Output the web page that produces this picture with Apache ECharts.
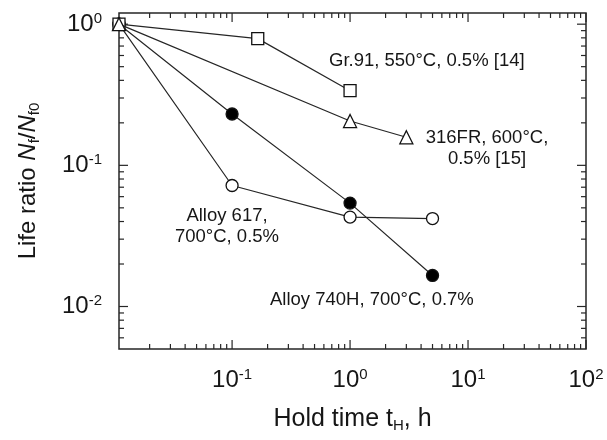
<!DOCTYPE html>
<html>
<head>
<meta charset="utf-8">
<script src="https://cdn.jsdelivr.net/npm/echarts@6/dist/echarts.min.js"></script>
<style>
  html, body { margin: 0; padding: 0; background: #fff; }
  #chart { width: 607px; height: 440px; }
</style>
</head>
<body>
<div id="chart"></div>
<script>
// hold time t_H (h) and life ratio Nf/Nf0; the t_H = 0 reference point sits on the left edge
const gr91Time = [0.011, 0.165, 1.0];
const gr91Ratio = [1.0, 0.79, 0.338];
const fr316Time = [0.011, 1.0, 3.0];
const fr316Ratio = [1.0, 0.206, 0.158];
const alloy740Time = [0.011, 0.1, 1.0, 5.0];
const alloy740Ratio = [1.0, 0.231, 0.054, 0.0166];
const alloy617Time = [0.011, 0.1, 1.0, 5.0];
const alloy617Ratio = [1.0, 0.072, 0.043, 0.042];

// tick marks (drawn inside the frame on all four sides)
const xMajorTicks = [0.1, 1, 10, 100];
const xMinorTicks = [0.02, 0.03, 0.04, 0.05, 0.06, 0.07, 0.08, 0.09,
  0.2, 0.3, 0.4, 0.5, 0.6, 0.7, 0.8, 0.9,
  2, 3, 4, 5, 6, 7, 8, 9,
  20, 30, 40, 50, 60, 70, 80, 90];
const yMajorTicks = [0.01, 0.1, 1];
const yMinorTicks = [0.006, 0.007, 0.008, 0.009,
  0.02, 0.03, 0.04, 0.05, 0.06, 0.07, 0.08, 0.09,
  0.2, 0.3, 0.4, 0.5, 0.6, 0.7, 0.8, 0.9];

const FONT = 'Liberation Sans, Arial, sans-serif';
const INK = '#161616';
const LINE = '#262626';

const chart = echarts.init(document.getElementById('chart'), null, { renderer: 'canvas' });

function pairs(xs, ys) {
  return xs.map((x, i) => [x, ys[i]]);
}

// superscript tick label: 10^n
function powerLabel(value) {
  const e = Math.log10(value);
  if (Math.abs(e - Math.round(e)) > 1e-6) return '';
  return '{b|10}{s|' + Math.round(e) + '}';
}

const tickRich = {
  b: { fontSize: 24, fontFamily: FONT, color: INK, lineHeight: 26 },
  s: { fontSize: 15, fontFamily: FONT, color: INK, verticalAlign: 'top', lineHeight: 15, padding: [0, 0, 8, 0] }
};

function renderTick(isX) {
  return function (params, api) {
    const cs = params.coordSys;
    const len = api.value(2) === 1 ? 9 : 5;
    const style = { stroke: LINE, lineWidth: 1.2 };
    if (isX) {
      const px = api.coord([api.value(0), 1])[0];
      return {
        type: 'group',
        children: [
          { type: 'line', shape: { x1: px, y1: cs.y + cs.height, x2: px, y2: cs.y + cs.height - len }, style: style },
          { type: 'line', shape: { x1: px, y1: cs.y, x2: px, y2: cs.y + len }, style: style }
        ]
      };
    }
    const py = api.coord([1, api.value(1)])[1];
    return {
      type: 'group',
      children: [
        { type: 'line', shape: { x1: cs.x, y1: py, x2: cs.x + len, y2: py }, style: style },
        { type: 'line', shape: { x1: cs.x + cs.width, y1: py, x2: cs.x + cs.width - len, y2: py }, style: style }
      ]
    };
  };
}

function dataSeries(name, xs, ys, symbol, fill, z) {
  return {
    name: name,
    type: 'line',
    data: pairs(xs, ys),
    symbol: symbol,
    symbolSize: symbol === 'triangle' ? 13 : 12,
    showAllSymbol: true,
    lineStyle: { color: LINE, width: 1.2 },
    itemStyle: { color: fill, borderColor: '#111', borderWidth: 1.3 },
    z: z
  };
}

const xTickData = xMajorTicks.map(v => [v, 1, 1]).concat(xMinorTicks.map(v => [v, 1, 0]));
const yTickData = yMajorTicks.map(v => [1, v, 1]).concat(yMinorTicks.map(v => [1, v, 0]));

const option = {
  animation: false,
  backgroundColor: '#fff',
  grid: {
    left: 119,
    right: 21,
    top: 13,
    bottom: 91,
    show: true,
    borderColor: LINE,
    borderWidth: 1.5,
    containLabel: false
  },
  xAxis: {
    type: 'log',
    logBase: 10,
    min: 0.011,
    max: 100,
    name: '{t|Hold time t}{sub|H}{t|, h}',
    nameLocation: 'middle',
    nameGap: 56,
    nameTextStyle: {
      rich: {
        t: { fontSize: 25, fontFamily: FONT, color: INK, lineHeight: 28 },
        sub: { fontSize: 15, fontFamily: FONT, color: INK, verticalAlign: 'bottom', lineHeight: 15, padding: [8, 0, 0, 0] }
      }
    },
    axisLine: { show: false },
    axisTick: { show: false },
    splitLine: { show: false },
    axisLabel: {
      margin: 18,
      formatter: powerLabel,
      rich: tickRich,
      showMinLabel: true,
      showMaxLabel: true
    }
  },
  yAxis: {
    type: 'log',
    logBase: 10,
    min: 0.005,
    max: 1.2,
    name: '{t|Life ratio }{i|N}{sub|f}{t|/}{i|N}{sub|f0}',
    nameLocation: 'middle',
    nameRotate: 90,
    nameGap: 77,
    nameTextStyle: {
      rich: {
        t: { fontSize: 24, fontFamily: FONT, color: INK, lineHeight: 28 },
        i: { fontSize: 24, fontFamily: FONT, fontStyle: 'italic', color: INK, lineHeight: 28 },
        sub: { fontSize: 15, fontFamily: FONT, color: INK, verticalAlign: 'bottom', lineHeight: 15, padding: [8, 0, 0, 0] }
      }
    },
    axisLine: { show: false },
    axisTick: { show: false },
    splitLine: { show: false },
    axisLabel: {
      margin: 17,
      formatter: powerLabel,
      rich: tickRich
    }
  },
  series: [
    { type: 'custom', renderItem: renderTick(true), data: xTickData, silent: true, z: 2 },
    { type: 'custom', renderItem: renderTick(false), data: yTickData, silent: true, z: 2 },
    dataSeries('Alloy 617', alloy617Time, alloy617Ratio, 'circle', '#fff', 3),
    dataSeries('Alloy 740H', alloy740Time, alloy740Ratio, 'circle', '#000', 4),
    dataSeries('Gr.91', gr91Time, gr91Ratio, 'rect', '#fff', 5),
    dataSeries('316FR', fr316Time, fr316Ratio, 'triangle', '#fff', 6)
  ],
  graphic: [
    { type: 'text', left: 329, top: 51, style: { text: 'Gr.91, 550°C, 0.5% [14]', font: '18.5px ' + FONT, fill: INK } },
    { type: 'text', x: 487, y: 127, style: { text: '316FR, 600°C,\n0.5% [15]', font: '18.5px ' + FONT, fill: INK, align: 'center', lineHeight: 21 } },
    { type: 'text', x: 227, y: 205, style: { text: 'Alloy 617,\n700°C, 0.5%', font: '18.5px ' + FONT, fill: INK, align: 'center', lineHeight: 21 } },
    { type: 'text', left: 270, top: 290, style: { text: 'Alloy 740H, 700°C, 0.7%', font: '18.5px ' + FONT, fill: INK } }
  ]
};

chart.setOption(option);
</script>
</body>
</html>
